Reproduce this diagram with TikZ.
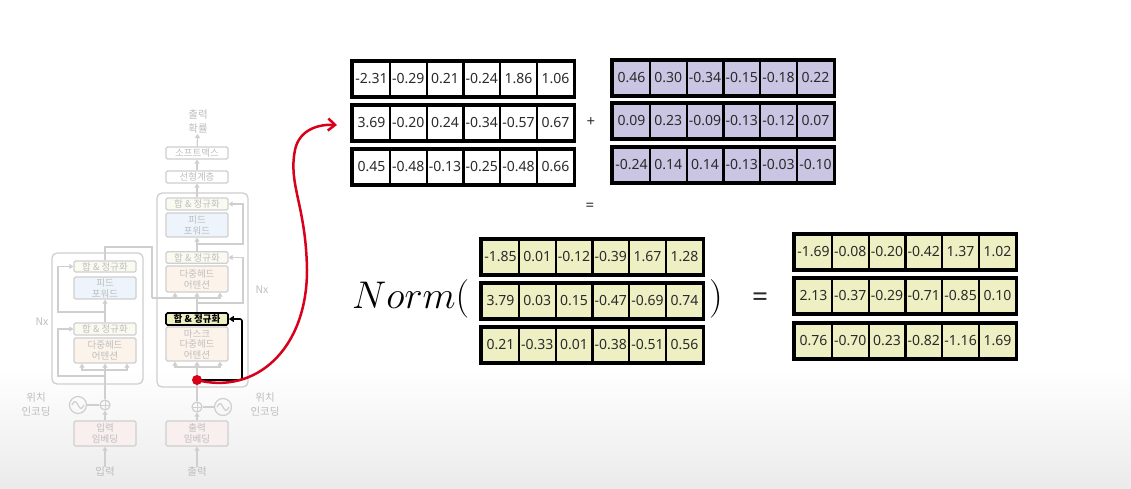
\documentclass[tikz,border=0pt]{standalone}
\usepackage{fontspec}
\setmainfont{Noto Sans}
\newfontfamily\krfont{Noto Sans CJK KR}
\usetikzlibrary{arrows.meta,calc}

\definecolor{fadeline}{HTML}{CFCFCF}
\definecolor{fadetext}{HTML}{BEBEBE}
\definecolor{ffblue}{HTML}{EDF4FB}
\definecolor{attpeach}{HTML}{FCF4EB}
\definecolor{anyellow}{HTML}{FAFAF0}
\definecolor{embpink}{HTML}{F9EFEF}
\definecolor{normyellow}{HTML}{EFEFC4}
\definecolor{addpurple}{HTML}{CAC5E3}
\definecolor{linkred}{HTML}{D8001A}
\definecolor{numgray}{HTML}{2B2B2B}

\tikzset{
  layer/.style={draw=fadeline, line width=1.3pt, rounded corners=1.5pt, minimum width=62pt,
    inner sep=0pt, align=center, font=\krfont\fontsize{9.5}{11}\selectfont, text=fadetext},
  flow/.style={fadeline, line width=1.3pt, -{Triangle[length=4pt,width=5pt]}},
  wire/.style={fadeline, line width=1.3pt},
  fadelabel/.style={text=fadetext, font=\krfont\fontsize{10.5}{14}\selectfont, align=center, inner sep=0pt},
  pluscircle/.style={draw=fadeline, line width=1.2pt, circle, minimum size=10pt, inner sep=0pt,
    path picture={\draw[fadeline, line width=1pt] (path picture bounding box.north) -- (path picture bounding box.south)
      (path picture bounding box.west) -- (path picture bounding box.east);}},
  sinecircle/.style={draw=fadeline, line width=1.2pt, circle, minimum size=17pt, inner sep=0pt,
    path picture={\draw[fadeline, line width=1.2pt] ([xshift=-6pt]path picture bounding box.center)
      sin ++(3,-3.5) cos ++(3,3.5) sin ++(3,3.5) cos ++(3,-3.5);}},
  cell/.style={draw=black, line width=2.2pt, minimum width=36.8pt, minimum height=35pt, inner sep=0pt,
    text=numgray, font=\fontsize{14}{14}\selectfont},
  rowframe/.style={draw=black, line width=3pt},
  reddot/.style={circle, fill=linkred, minimum size=10pt, inner sep=0pt},
}

% one row of six numbers: name, left x, centre y, fill, values
\newcommand{\vecrow}[5]{%
  \foreach \v [count=\i] in {#5} {
    \node[cell, fill=#4] (#1-\i) at ({#2+36.8*(\i-0.5)},#3) {\v};
  }
  \draw[rowframe] (#1-1.north west) rectangle (#1-6.south east);
}

\begin{document}
\begin{tikzpicture}[x=1pt,y=-1pt]
    \useasboundingbox (0,0) rectangle (1131,489);
    \fill[white] (0,0) rectangle (1131,489);
    \shade[top color=white, bottom color=black!8] (0,370) rectangle (1131,489);

    % Drawing the faded encoder
    \draw[wire, rounded corners=5pt] (52,253) rectangle (143,384);
    \node[layer, fill=anyellow, minimum height=11pt] (enc-an2) at (105,266.5) {합 \& 정규화};
    \node[layer, fill=ffblue, minimum height=22pt] (enc-ff) at (105,288) {피드\\포워드};
    \node[layer, fill=anyellow, minimum height=12pt] (enc-an1) at (105,329) {합 \& 정규화};
    \node[layer, fill=attpeach, minimum height=25pt] (enc-att) at (105,350.5) {다중헤드\\어텐션};
    \node[pluscircle] (enc-plus) at (105,405) {};
    \node[sinecircle] (enc-pe) at (78,405) {};
    \node[layer, fill=embpink, minimum height=25pt] (enc-emb) at (105,433.5) {입력\\임베딩};
    \node[fadelabel] (enc-in) at (105,472) {입력};
    \node[fadelabel] (enc-pe-txt) at (36,405) {위치\\인코딩};
    \node[fadelabel] (enc-n) at (42,322) {Nx};

    \coordinate (enc-split) at (105,370);
    \coordinate (enc-res1) at (105,376);
    \coordinate (enc-res2) at (105,312);
    \draw[flow] (enc-in) -- (enc-emb);
    \draw[flow] (enc-emb) -- (enc-plus);
    \draw[wire] (enc-pe) -- (enc-plus);
    \draw[wire] (enc-plus) -- (enc-split);
    \draw[flow] (enc-split) -| ([xshift=-23pt]enc-att.south);
    \draw[flow] (enc-split) -- (enc-att);
    \draw[flow] (enc-split) -| ([xshift=22pt]enc-att.south);
    \draw[flow] (enc-res1) -- ++(-47,0) |- (enc-an1.west);
    \draw[flow] (enc-an1) -- (enc-ff);
    \draw[flow] (enc-res2) -- ++(-47,0) |- (enc-an2.west);

    % Drawing the faded decoder
    \draw[wire, rounded corners=5pt] (157,193) rectangle (248,387);
    \node[fadelabel] (dec-out) at (198,122) {출력\\확률};
    \node[layer, fill=white, minimum height=12pt] (dec-soft) at (197,153) {소프트맥스};
    \node[layer, fill=white, minimum height=12pt] (dec-lin) at (197,177) {선형계층};
    \node[layer, fill=anyellow, minimum height=12pt] (dec-an3) at (197,204) {합 \& 정규화};
    \node[layer, fill=ffblue, minimum height=24pt] (dec-ff) at (197,225) {피드\\포워드};
    \node[layer, fill=anyellow, minimum height=11.5pt] (dec-an2) at (197,257.5) {합 \& 정규화};
    \node[layer, fill=attpeach, minimum height=26pt] (dec-att2) at (197,279) {다중헤드\\어텐션};
    \node[layer, fill=attpeach, minimum height=34pt, font=\krfont\fontsize{9.5}{10.5}\selectfont]
        (dec-att1) at (197,344) {마스크\\다중헤드\\어텐션};
    \node[pluscircle] (dec-plus) at (197,407) {};
    \node[sinecircle] (dec-pe) at (223,407) {};
    \node[layer, fill=embpink, minimum height=25pt] (dec-emb) at (197,433.5) {출력\\임베딩};
    \node[fadelabel] (dec-in) at (197,472) {출력};
    \node[fadelabel] (dec-pe-txt) at (265,405) {위치\\인코딩};
    \node[fadelabel] (dec-n) at (262,290) {Nx};

    \coordinate (enc-top) at (152,247);
    \coordinate (dec-kv) at (152,298);
    \coordinate (dec-q) at (197,298);
    \coordinate (dec-res2) at (197,303);
    \coordinate (dec-res3) at (197,244);
    \coordinate (dec-split) at (197,367);
    \draw[flow] (dec-soft) -- (dec-out);
    \draw[flow] (dec-lin) -- (dec-soft);
    \draw[flow] (dec-an3) -- (dec-lin);
    \draw[flow] (dec-an2) -- (dec-ff);
    \draw[flow] (dec-res3) -- ++(46,0) |- (dec-an3.east);
    \draw[flow] (dec-res2) -- ++(46,0) |- (dec-an2.east);
    \draw[wire] (enc-an2.north) |- (enc-top) -- (dec-kv);
    \draw[flow] (dec-kv) -| ([xshift=-22pt]dec-att2.south);
    \draw[wire] (dec-kv) -- (dec-q);
    \draw[flow] (dec-q) -- (dec-att2);
    \draw[flow] (dec-q) -| ([xshift=23pt]dec-att2.south);
    \draw[flow] (dec-in) -- (dec-emb);
    \draw[flow] (dec-emb) -- (dec-plus);
    \draw[wire] (dec-pe) -- (dec-plus);
    \draw[wire] (dec-plus) -- (dec-split);
    \draw[flow] (dec-split) -| ([xshift=-22pt]dec-att1.south);
    \draw[flow] (dec-split) -- (dec-att1);
    \draw[flow] (dec-split) -| ([xshift=23pt]dec-att1.south);

    % Highlighting the first add & norm
    \node[layer, draw=black, line width=1.6pt, fill=normyellow, text=black, minimum height=12pt,
        font=\krfont\bfseries\fontsize{9.5}{11}\selectfont] (dec-an1) at (197,319) {합 \& 정규화};
    \draw[wire] (dec-an1) -- (dec-res2) -- (dec-q);
    \coordinate (link) at (197,380);
    \coordinate (a-tip) at (337,125);
    \draw[black, line width=1.6pt, rounded corners=2pt, -{Triangle[length=5pt,width=6pt]}]
        (link) -- ++(45,0) |- (dec-an1.east);
    \draw[linkred, line width=2.5pt, -{Straight Barb[length=7pt,width=12pt]}]
        (link) .. controls (255,395) and (307,350) .. (307,270)
        .. controls (306,205) and (288,185) .. (295,150)
        .. controls (299,130) and (318,124) .. (a-tip);
    \node[reddot] (dot) at (link) {};

    % Drawing the sublayer input and output
    \vecrow{a1}{353}{79}{white}{-2.31,-0.29,0.21,-0.24,1.86,1.06}
    \vecrow{a2}{353}{123}{white}{3.69,-0.20,0.24,-0.34,-0.57,0.67}
    \vecrow{a3}{353}{167}{white}{0.45,-0.48,-0.13,-0.25,-0.48,0.66}
    \node[font=\fontsize{15}{15}\selectfont, text=numgray] (plus) at (591,122) {+};
    \vecrow{b1}{613}{78}{addpurple}{0.46,0.30,-0.34,-0.15,-0.18,0.22}
    \vecrow{b2}{613}{121}{addpurple}{0.09,0.23,-0.09,-0.13,-0.12,0.07}
    \vecrow{b3}{613}{165}{addpurple}{-0.24,0.14,0.14,-0.13,-0.03,-0.10}
    \node[font=\fontsize{15}{15}\selectfont, text=numgray] (eq-sum) at (590,207) {=};

    % Drawing the normalisation
    \node[anchor=base west, inner sep=0pt] (norm) at (352,308)
        {\scalebox{1.55}{\fontsize{24.88}{30}\selectfont $Norm($}};
    \vecrow{c1}{482}{257}{normyellow}{-1.85,0.01,-0.12,-0.39,1.67,1.28}
    \vecrow{c2}{482}{301}{normyellow}{3.79,0.03,0.15,-0.47,-0.69,0.74}
    \vecrow{c3}{482}{345}{normyellow}{0.21,-0.33,0.01,-0.38,-0.51,0.56}
    \node[anchor=base, inner sep=0pt] (close) at (716,308)
        {\scalebox{1.55}{\fontsize{24.88}{30}\selectfont $)$}};
    \node[font=\fontsize{28}{28}\selectfont, text=numgray] (eq-norm) at (760,300) {=};
    \vecrow{d1}{795}{252}{normyellow}{-1.69,-0.08,-0.20,-0.42,1.37,1.02}
    \vecrow{d2}{795}{296}{normyellow}{2.13,-0.37,-0.29,-0.71,-0.85,0.10}
    \vecrow{d3}{795}{341}{normyellow}{0.76,-0.70,0.23,-0.82,-1.16,1.69}
\end{tikzpicture}
\end{document}
